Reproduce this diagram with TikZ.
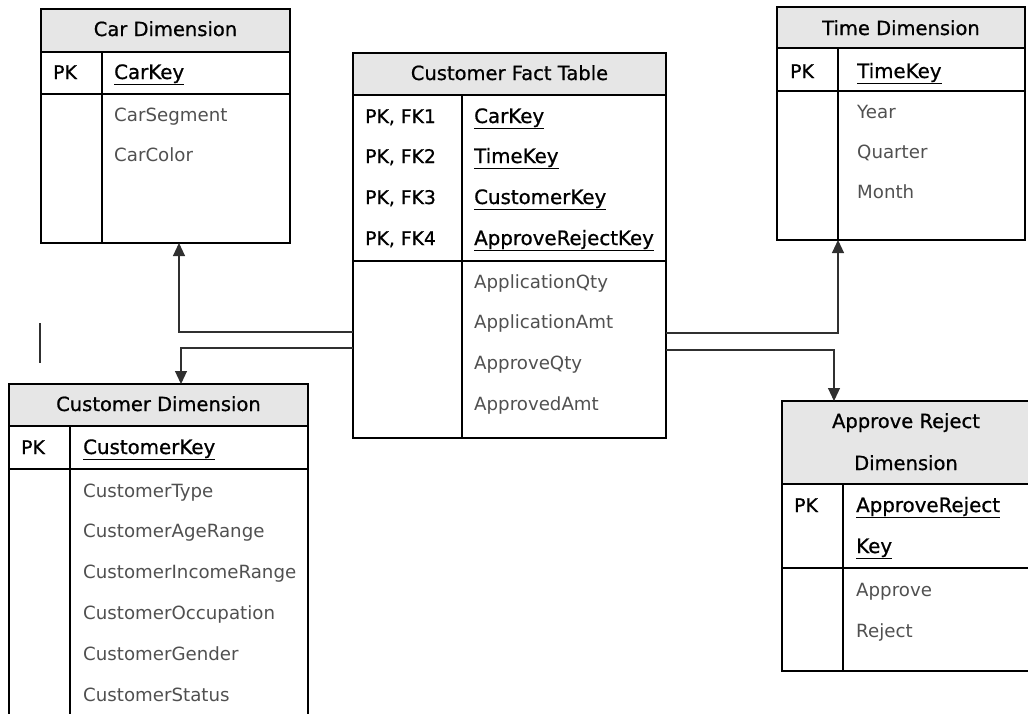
\documentclass[tikz,border=0pt]{standalone}
\usepackage{fontspec}
\setmainfont{DejaVu Sans}
\newfontfamily\medfont[FakeBold=0.8]{DejaVu Sans}
\usetikzlibrary{arrows.meta}
\definecolor{hdrgray}{HTML}{E6E6E6}
\definecolor{attrgray}{HTML}{505050}
\definecolor{linegray}{HTML}{303030}
\tikzset{
  hdrbox/.style={draw, fill=hdrgray, line width=1.1pt, anchor=north west, inner sep=0pt, outer sep=0pt},
  bodybox/.style={draw, line width=1.1pt, anchor=north west, inner sep=0pt, outer sep=0pt},
  sep/.style={line width=1.1pt},
  hdrtext/.style={font=\medfont\fontsize{19.5}{22}\selectfont, text=black, inner sep=0pt, anchor=base},
  pktext/.style={font=\medfont\fontsize{18.8}{22}\selectfont, text=black, inner sep=0pt, anchor=base west},
  keytext/.style={font=\medfont\fontsize{19.8}{22}\selectfont, text=black, inner sep=0pt, anchor=base west},
  attr/.style={font=\fontsize{18.2}{22}\selectfont, text=attrgray, inner sep=0pt, anchor=base west},
  link/.style={line width=1.1pt, draw=linegray},
  arr/.style={link, -{Triangle[length=13pt,width=12pt]}}
}
\begin{document}
\begin{tikzpicture}[x=1pt,y=-1pt]
\useasboundingbox (0,0) rectangle (1028,713);

% ---------- Car Dimension ----------
\node[hdrbox, minimum width=249pt, minimum height=43pt] (carH) at (41,9) {};
\node[bodybox, minimum width=249pt, minimum height=191pt] (carB) at (41,52) {};
\draw[sep] (102,52) -- (102,243);
\draw[sep] (41,94) -- (290,94);
\node[hdrtext] (carT) at (165.5,36) {Car Dimension};
\node[pktext] (carPK) at (53,79) {PK};
\node[keytext] (carK) at (114,79) {\underline{CarKey}};
\node[attr] (carA1) at (114,121) {CarSegment};
\node[attr] (carA2) at (114,161) {CarColor};

% ---------- Customer Fact Table ----------
\node[hdrbox, minimum width=313pt, minimum height=42pt] (factH) at (353,53) {};
\node[bodybox, minimum width=313pt, minimum height=343pt] (factB) at (353,95) {};
\draw[sep] (462,95) -- (462,438);
\draw[sep] (353,261) -- (666,261);
\node[hdrtext] (factT) at (509.5,80) {Customer Fact Table};
\node[pktext] (fPK1) at (365,123) {PK, FK1};
\node[pktext] (fPK2) at (365,163) {PK, FK2};
\node[pktext] (fPK3) at (365,204) {PK, FK3};
\node[pktext] (fPK4) at (365,245) {PK, FK4};
\node[keytext] (fK1) at (474,123) {\underline{CarKey}};
\node[keytext] (fK2) at (474,163) {\underline{TimeKey}};
\node[keytext] (fK3) at (474,204) {\underline{CustomerKey}};
\node[keytext] (fK4) at (474,245) {\underline{ApproveRejectKey}};
\node[attr] (fA1) at (474,288) {ApplicationQty};
\node[attr] (fA2) at (474,328) {ApplicationAmt};
\node[attr] (fA3) at (474,369) {ApproveQty};
\node[attr] (fA4) at (474,410) {ApprovedAmt};

% ---------- Time Dimension ----------
\node[hdrbox, minimum width=248pt, minimum height=41pt] (timeH) at (777,7) {};
\node[bodybox, minimum width=248pt, minimum height=192pt] (timeB) at (777,48) {};
\draw[sep] (838,48) -- (838,240);
\draw[sep] (777,91) -- (1025,91);
\node[hdrtext] (timeT) at (901,35) {Time Dimension};
\node[pktext] (tPK) at (790,78) {PK};
\node[keytext] (tK) at (857,78) {\underline{TimeKey}};
\node[attr] (tA1) at (857,118) {Year};
\node[attr] (tA2) at (857,158) {Quarter};
\node[attr] (tA3) at (857,198) {Month};

% ---------- Customer Dimension ----------
\node[hdrbox, minimum width=299pt, minimum height=42pt] (custH) at (9,384) {};
\node[bodybox, minimum width=299pt, minimum height=320pt] (custB) at (9,426) {};
\draw[sep] (70,426) -- (70,740);
\draw[sep] (9,469) -- (308,469);
\node[hdrtext] (custT) at (158.5,411) {Customer Dimension};
\node[pktext] (cPK) at (21,454) {PK};
\node[keytext] (cK) at (83,454) {\underline{CustomerKey}};
\node[attr] (cA1) at (83,497) {CustomerType};
\node[attr] (cA2) at (83,537) {CustomerAgeRange};
\node[attr] (cA3) at (83,578) {CustomerIncomeRange};
\node[attr] (cA4) at (83,619) {CustomerOccupation};
\node[attr] (cA5) at (83,660) {CustomerGender};
\node[attr] (cA6) at (83,701) {CustomerStatus};

% ---------- Approve Reject Dimension ----------
\node[hdrbox, minimum width=250pt, minimum height=83pt] (apH) at (782,401) {};
\node[bodybox, minimum width=250pt, minimum height=187pt] (apB) at (782,484) {};
\draw[sep] (843,484) -- (843,671);
\draw[sep] (782,568) -- (1032,568);
\node[hdrtext] (apT1) at (906,428) {Approve Reject};
\node[hdrtext] (apT2) at (906,470) {Dimension};
\node[pktext] (aPK) at (794,512) {PK};
\node[keytext] (aK1) at (856,512) {\underline{ApproveReject}};
\node[keytext] (aK2) at (856,553) {\underline{Key}};
\node[attr] (aA1) at (856,596) {Approve};
\node[attr] (aA2) at (856,637) {Reject};

% ---------- attachment points ----------
\coordinate (carIn) at (179,243);
\coordinate (timeIn) at (838,240);
\coordinate (custIn) at (181,384);
\coordinate (apIn) at (834,401);
\coordinate (fL1) at (353,332);
\coordinate (fL2) at (353,348);
\coordinate (fR1) at (666,333);
\coordinate (fR2) at (666,350);

% ---------- connectors ----------
\draw[arr] (fL1) -| (carIn);
\draw[arr] (fL2) -| (custIn);
\draw[arr] (fR1) -| (timeIn);
\draw[arr] (fR2) -| (apIn);

% stray mark
\coordinate (m1) at (40,323);
\coordinate (m2) at (40,363);
\draw[link, line width=1.2pt] (m1) -- (m2);
\end{tikzpicture}
\end{document}
